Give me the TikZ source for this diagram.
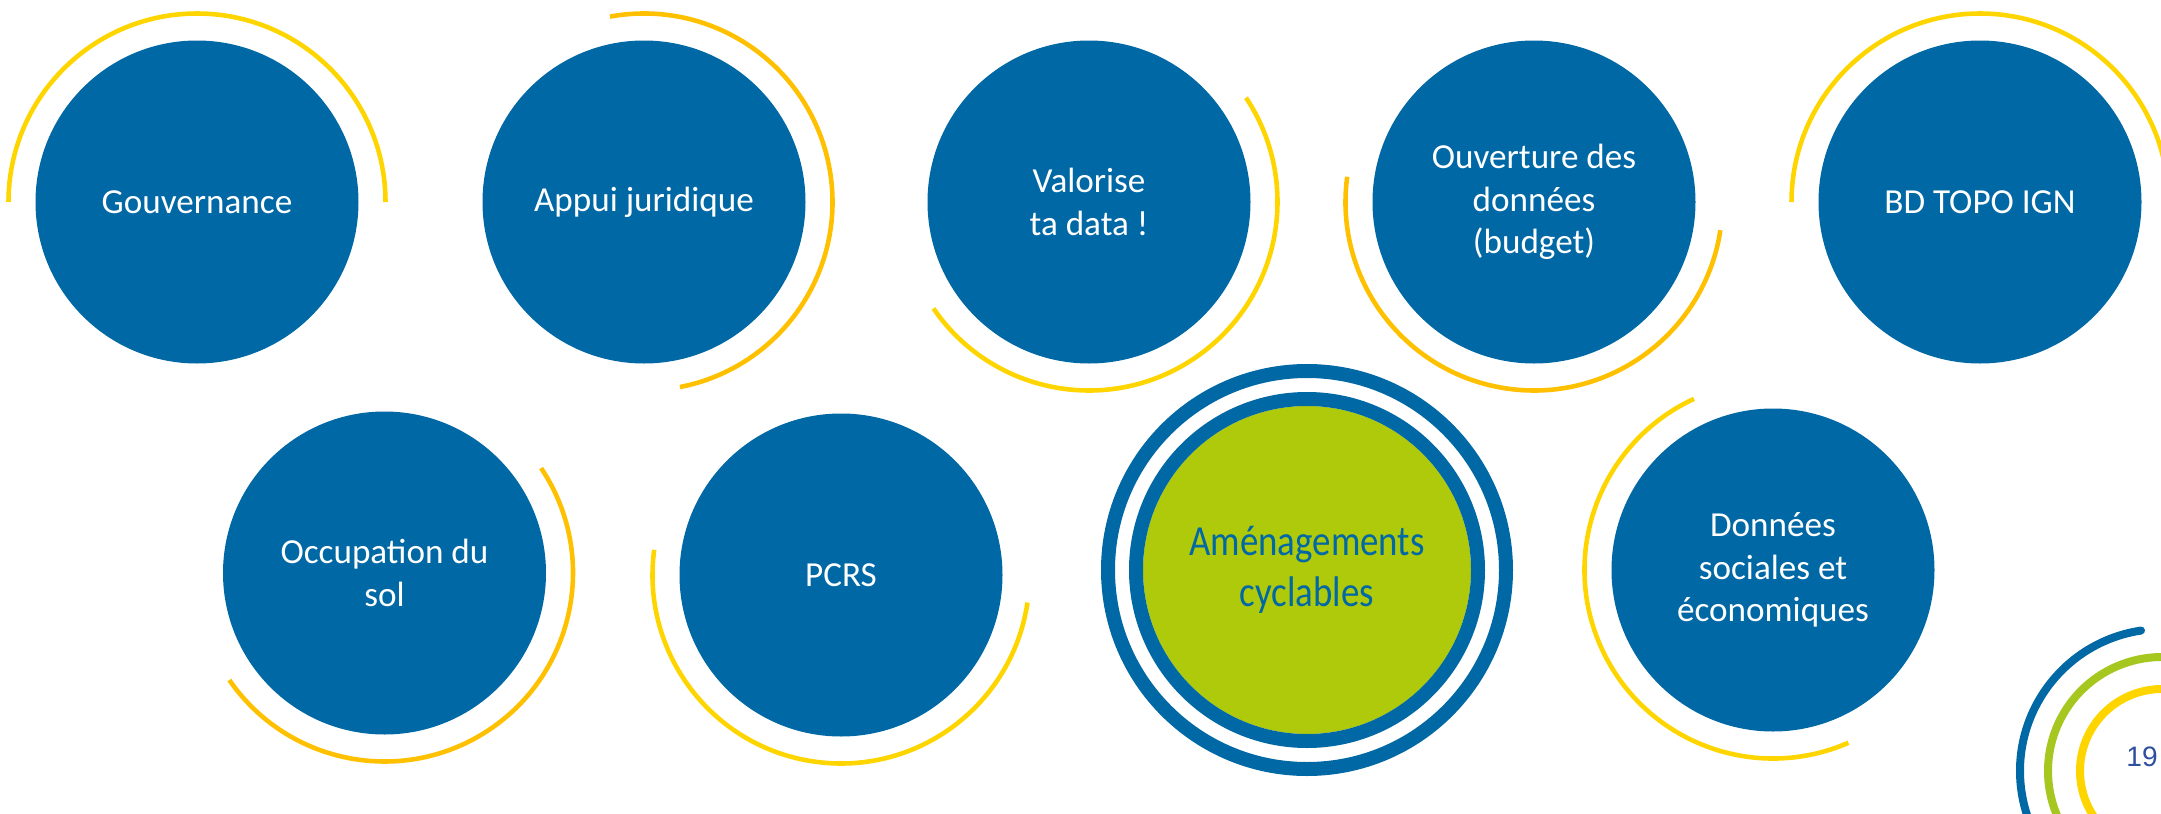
\documentclass[tikz,border=0pt]{standalone}
\usepackage{fontspec}
\setmainfont{Carlito}
\newfontfamily\narrowfont[FakeStretch=0.86]{Carlito}
\newfontfamily\pagefont{Liberation Sans}
\definecolor{ignblue}{HTML}{0068A5}
\definecolor{cyclegreen}{HTML}{AFCA0B}
\definecolor{gold}{HTML}{FFD500}
\definecolor{amber}{HTML}{FFC000}
\definecolor{logogreen}{HTML}{A6C620}
\definecolor{pageblue}{HTML}{2E4E9E}

\begin{document}
\begin{tikzpicture}[
    bulle/.style={circle,fill=ignblue,minimum size=3.23cm,inner sep=0pt,
      text=white,align=center,font=\fontsize{10}{12.1}\selectfont},
    jaune/.style={draw=gold,line width=1.3pt},
    ambre/.style={draw=amber,line width=1.3pt},
    anneau/.style={draw=ignblue,line width=0.14cm},
    logo/.style={line width=0.08cm}]
    \useasboundingbox (0,0) rectangle (21.61,8.13);
    \clip (0,0) rectangle (21.61,8.13);
    % top row
    \node[bulle] (gouv) at (1.97,6.11) {Gouvernance};
    \node[bulle] (appui) at (6.44,6.11) {Appui juridique};
    \node[bulle] (valor) at (10.89,6.11) {Valorise\\ta data !};
    \node[bulle] (ouvert) at (15.34,6.11) {Ouverture des\\données\\(budget)};
    \node[bulle] (bdtopo) at (19.80,6.11) {BD TOPO IGN};
    % bottom row
    \node[bulle] (occup) at (3.845,2.40) {Occupation du\\sol};
    \node[bulle] (pcrs) at (8.41,2.38) {PCRS};
    \draw[anneau] (13.07,2.43) circle (1.99);
    \node[circle,fill=cyclegreen,minimum size=3.28cm,inner sep=0pt,align=center,
      text=ignblue,font=\narrowfont\fontsize{12.2}{14.4}\selectfont]
      (amenag) at (13.07,2.43) {Aménagements\\cyclables};
    \draw[anneau] (amenag.center) circle (1.71);
    \node[bulle] (donnees) at (17.73,2.43) {Données\\sociales et\\économiques};
    % arcs
    \draw[jaune] (gouv.center) ++(0:1.885) arc[start angle=0,end angle=180,radius=1.885];
    \draw[ambre] (appui.center) ++(100.4:1.885) arc[start angle=100.4,end angle=-79,radius=1.885];
    \draw[jaune] (valor.center) ++(33.6:1.885) arc[start angle=33.6,end angle=-145.6,radius=1.885];
    \draw[ambre] (ouvert.center) ++(172.3:1.885) arc[start angle=172.3,end angle=351.4,radius=1.885];
    \draw[jaune] (bdtopo.center) ++(0:1.885) arc[start angle=0,end angle=180,radius=1.885];
    \draw[ambre] (occup.center) ++(33.8:1.885) arc[start angle=33.8,end angle=-145.4,radius=1.885];
    \draw[jaune] (pcrs.center) ++(172.3:1.885) arc[start angle=172.3,end angle=351.6,radius=1.885];
    \draw[jaune] (donnees.center) ++(114.8:1.885) arc[start angle=114.8,end angle=293.6,radius=1.885];
    % logo and page number
    \coordinate (logo) at (21.62,0.42);
    \draw[logo,ignblue,line cap=round] (logo) ++(98.5:1.42) arc[start angle=98.5,end angle=215,radius=1.42];
    \draw[logo,logogreen] (logo) ++(60:1.14) arc[start angle=60,end angle=225,radius=1.14];
    \draw[logo,gold] (logo) ++(60:0.82) arc[start angle=60,end angle=235,radius=0.82];
    \node[text=pageblue,font=\pagefont\fontsize{8}{9}\selectfont] (page) at (21.42,0.56) {19};
\end{tikzpicture}
\end{document}
